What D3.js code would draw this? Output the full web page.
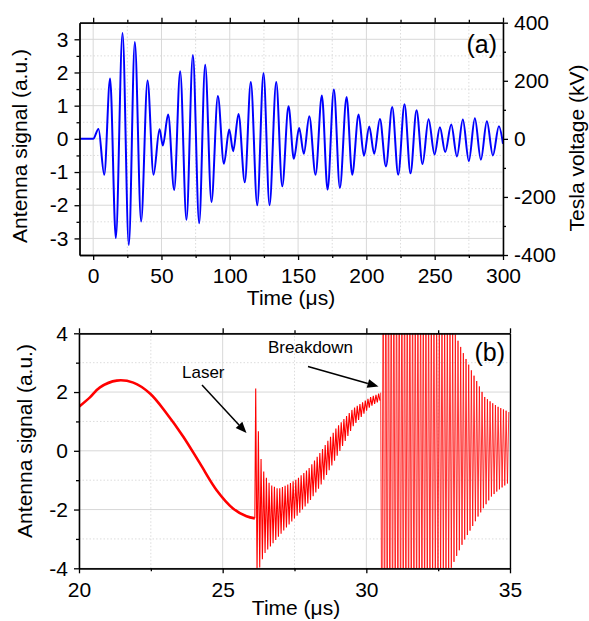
<!DOCTYPE html>
<html>
<head>
<meta charset="utf-8">
<script src="https://cdnjs.cloudflare.com/ajax/libs/d3/7.8.5/d3.min.js"></script>
<style>
  body { margin: 0; background: #fff; }
  text { font-family: "Liberation Sans", Arial, sans-serif; fill: #000; }
  .grid-major { stroke: #d8d8d8; stroke-width: 1; }
  .grid-minor { stroke: #dcdcdc; stroke-width: 1; stroke-dasharray: 1.5 2; }
  .axis path, .axis line { stroke: #000; stroke-width: 1.3; }
</style>
</head>
<body>
<div id="chart"></div>
<script>
// ---- panel (a): antenna signal, extrema ----
const aTime = [-10, 0, 3.9, 8.1, 12.4, 16.6, 21.5, 26.1, 30.5, 35.1, 39.8, 44.2,
  48.6, 51.0, 54.9, 59.3, 63.7, 68.3, 73.0, 77.6, 82.0, 86.6,
  91.3, 95.7, 99.6, 102.5, 106.4, 111.0, 115.4, 120.1, 124.7, 129.1,
  134.0, 138.4, 143.0, 146.9, 150.8, 154.2, 158.2, 162.8, 167.4, 171.6,
  176.2, 180.6, 185.5, 189.6, 194.3, 198.2, 202.1, 205.7, 209.9, 214.3,
  218.9, 223.3, 227.9, 232.3, 236.7, 241.1, 245.5, 249.9, 253.8, 257.7,
  262.1, 266.3, 270.6, 275.0, 279.4, 283.8, 288.2, 292.6, 297.0, 300];
const aSignal = [0, 0, 0.30, -1.08, 1.82, -2.99, 3.19, -3.2, 2.92, -2.49, 1.76, -1.08,
  0.29, -0.2, 0.73, -1.54, 2.04, -2.44, 2.53, -2.54, 2.23, -1.9,
  1.29, -0.75, 0.28, -0.37, 0.75, -1.31, 1.71, -2.0, 1.98, -2.0,
  1.71, -1.43, 0.98, -0.6, 0.33, -0.45, 0.68, -1.08, 1.31, -1.53,
  1.49, -1.48, 1.26, -1.08, 0.73, -0.51, 0.37, -0.45, 0.6, -0.83,
  0.96, -1.08, 1.04, -1.04, 0.86, -0.76, 0.59, -0.47, 0.35, -0.4,
  0.43, -0.53, 0.58, -0.67, 0.62, -0.63, 0.53, -0.5, 0.38, -0.15];
const aXMajor = [0, 50, 100, 150, 200, 250, 300];
const aXMinor = [25, 75, 125, 175, 225, 275];
const aYMajor = [-3, -2, -1, 0, 1, 2, 3];
const aYMinor = [-2.5, -1.5, -0.5, 0.5, 1.5, 2.5];
const aKvMajor = [-400, -200, 0, 200, 400];
const aKvMinor = [-300, -100, 100, 300];

// ---- panel (b): antenna signal around laser trigger and breakdown ----
// slow swing before the laser
const bTime = [20, 20.38, 20.73, 21.31, 21.89, 22.47, 23.05, 23.63, 24.21, 24.79, 25.37, 25.83, 26.12];
const bSignal = [1.5, 1.82, 2.16, 2.39, 2.32, 1.95, 1.27, 0.48, -0.43, -1.34, -1.97, -2.23, -2.3];
// ringing after the laser: envelope of the oscillation
const laserTime = [26.15, 26.24, 26.32, 26.41, 26.50, 26.65, 26.94, 27.27, 27.6, 28.0, 28.4, 28.97, 29.55, 30.13, 30.50];
const laserUpper = [2.12, 0.70, -0.20, -0.66, -0.88, -1.15, -1.30, -1.15, -0.95, -0.6, -0.05, 0.80, 1.45, 1.82, 1.98];
const laserLower = [-4.2, -4.1, -3.9, -3.6, -3.43, -3.27, -2.93, -2.55, -2.2, -1.75, -1.2, -0.2, 0.85, 1.5, 1.72];
// breakdown: envelope (goes off scale until ~33 µs)
const bdTime = [30.54, 32.95, 33.18, 33.41, 33.65, 33.88, 34.11, 34.35, 34.58, 35.0];
const bdUpper = [8, 4.3, 3.77, 3.25, 2.75, 2.3, 1.84, 1.65, 1.5, 1.3];
const bdLower = [-8, -4.0, -3.5, -3.04, -2.65, -2.25, -1.9, -1.56, -1.35, -1.05];
const ringPeriod = 0.093; // µs, spacing of the teeth
const bXMajor = [20, 25, 30, 35];
const bXMinor = [22.5, 27.5, 32.5];
const bYMajor = [-4, -2, 0, 2, 4];
const bYMinor = [-3, -1, 1, 3];

const width = 589, height = 621;
const svg = d3.select("#chart").append("svg")
  .attr("width", width).attr("height", height);

function drawPanel(cfg) {
  const { x, y, xMajor, xMinor, yMajor, yMinor } = cfg;
  const g = svg.append("g");
  const [x0, x1] = x.range(), [y0, y1] = y.range();

  // grid
  g.selectAll(".gxm").data(xMinor).join("line").attr("class", "grid-minor")
    .attr("x1", x).attr("x2", x).attr("y1", y0).attr("y2", y1);
  g.selectAll(".gym").data(yMinor).join("line").attr("class", "grid-minor")
    .attr("y1", y).attr("y2", y).attr("x1", x0).attr("x2", x1);
  g.selectAll(".gxM").data(xMajor).join("line").attr("class", "grid-major")
    .attr("x1", x).attr("x2", x).attr("y1", y0).attr("y2", y1);
  g.selectAll(".gyM").data(yMajor).join("line").attr("class", "grid-major")
    .attr("y1", y).attr("y2", y).attr("x1", x0).attr("x2", x1);
  return g;
}

function drawAxes(g, cfg) {
  const { x, y, xMajor, xMinor, yMajor, yMinor } = cfg;
  const [x0, x1] = x.range(), [y0, y1] = y.range();
  const add = (axis, tr) => g.append("g").attr("class", "axis")
    .attr("transform", tr).call(axis)
    .call(s => s.selectAll("text").attr("font-size", 21).attr("font-family", null));
  // minor ticks
  add(d3.axisBottom(x).tickValues(xMinor).tickSize(3).tickSizeOuter(0).tickFormat(""), `translate(0,${y0})`);
  add(d3.axisTop(x).tickValues(xMinor).tickSize(3).tickSizeOuter(0).tickFormat(""), `translate(0,${y1})`);
  add(d3.axisLeft(y).tickValues(yMinor).tickSize(3).tickSizeOuter(0).tickFormat(""), `translate(${x0},0)`);
  // major ticks
  add(d3.axisBottom(x).tickValues(xMajor).tickSize(5).tickSizeOuter(0).tickPadding(cfg.xPad), `translate(0,${y0})`);
  add(d3.axisTop(x).tickValues(xMajor).tickSize(5).tickSizeOuter(0).tickFormat(""), `translate(0,${y1})`);
  add(d3.axisLeft(y).tickValues(yMajor).tickSize(5).tickSizeOuter(0).tickPadding(6)
    .tickFormat(d3.format("d")), `translate(${x0},0)`);
  if (cfg.right) {
    const r = cfg.right;
    add(d3.axisRight(r).tickValues(aKvMinor).tickSize(3).tickSizeOuter(0).tickFormat(""), `translate(${x1},0)`);
    add(d3.axisRight(r).tickValues(aKvMajor).tickSize(5).tickSizeOuter(0).tickPadding(6)
      .tickFormat(d3.format("d")), `translate(${x1},0)`);
  } else {
    add(d3.axisRight(y).tickValues([]).tickSizeOuter(0), `translate(${x1},0)`);
  }
  // minus signs as plain hyphens, like the original
  g.selectAll(".axis text").text(function () { return d3.select(this).text().replace("−", "-"); });
}

// ---------- panel (a) ----------
const xa = d3.scaleLinear().domain([-10, 300]).range([79.5, 503]);
const ya = d3.scaleLinear().domain([-3.5, 3.5]).range([255, 22.7]);
const yaKv = d3.scaleLinear().domain([-400, 400]).range([255, 22.7]);
const cfgA = { x: xa, y: ya, xMajor: aXMajor, xMinor: aXMinor, yMajor: aYMajor, yMinor: aYMinor, xPad: 8, right: yaKv };
const ga = drawPanel(cfgA);

svg.append("clipPath").attr("id", "clipA").append("rect")
  .attr("x", 79.5).attr("y", 22.7).attr("width", 503 - 79.5).attr("height", 255 - 22.7);
ga.append("path")
  .datum(d3.zip(aTime, aSignal))
  .attr("clip-path", "url(#clipA)")
  .attr("fill", "none").attr("stroke", "#0000ff").attr("stroke-width", 2)
  .attr("d", d3.line().x(d => xa(d[0])).y(d => ya(d[1])).curve(d3.curveMonotoneX));
drawAxes(ga, cfgA);

ga.append("text").attr("x", 497).attr("y", 53).attr("text-anchor", "end")
  .attr("font-size", 25).text("(a)");
ga.append("text").attr("x", 291).attr("y", 305).attr("text-anchor", "middle")
  .attr("font-size", 21).text("Time (μs)");
ga.append("text").attr("transform", "translate(27,146) rotate(-90)")
  .attr("text-anchor", "middle").attr("font-size", 21).text("Antenna signal (a.u.)");
ga.append("text").attr("transform", "translate(583.5,148) rotate(-90)")
  .attr("text-anchor", "middle").attr("font-size", 21).text("Tesla voltage (kV)");

// ---------- panel (b) ----------
const xb = d3.scaleLinear().domain([20, 35]).range([79, 510]);
const yb = d3.scaleLinear().domain([-4, 4]).range([568.3, 333.3]);
const cfgB = { x: xb, y: yb, xMajor: bXMajor, xMinor: bXMinor, yMajor: bYMajor, yMinor: bYMinor, xPad: 9 };
const gb = drawPanel(cfgB);

svg.append("clipPath").attr("id", "clipB").append("rect")
  .attr("x", 79).attr("y", 333.3).attr("width", 510 - 79).attr("height", 568.3 - 333.3);

// oscillation drawn as teeth alternating between the read envelopes
function ringing(times, upper, lower, startLow) {
  const up = d3.scaleLinear().domain(times).range(upper);
  const lo = d3.scaleLinear().domain(times).range(lower);
  const t0 = times[0], t1 = times[times.length - 1];
  const n = Math.floor((t1 - t0) / (ringPeriod / 2));
  return d3.range(n + 1).map(k => {
    const t = t0 + k * ringPeriod / 2;
    const low = (k % 2 === 0) === startLow;
    return [t, low ? lo(t) : up(t)];
  });
}

const lineB = d3.line().x(d => xb(d[0])).y(d => yb(d[1]));
const plotB = gb.append("g").attr("clip-path", "url(#clipB)");
plotB.append("path")
  .datum(d3.zip(bTime, bSignal))
  .attr("fill", "none").attr("stroke", "#ff0000").attr("stroke-width", 2.6)
  .attr("d", lineB.curve(d3.curveCatmullRom));
plotB.append("path")
  .datum([[bTime[bTime.length - 1], bSignal[bSignal.length - 1]]].concat(ringing(laserTime, laserUpper, laserLower, false)))
  .attr("fill", "none").attr("stroke", "#ff0000").attr("stroke-width", 1.1)
  .attr("d", d3.line().x(d => xb(d[0])).y(d => yb(d[1])));
plotB.append("path")
  .datum([[laserTime[laserTime.length - 1], laserUpper[laserUpper.length - 1]]].concat(ringing(bdTime, bdUpper, bdLower, true)))
  .attr("fill", "none").attr("stroke", "#ff0000").attr("stroke-width", 0.8)
  .attr("d", d3.line().x(d => xb(d[0])).y(d => yb(d[1])));
drawAxes(gb, cfgB);

// annotations
function arrow(g, x1, y1, x2, y2) {
  const a = Math.atan2(y2 - y1, x2 - x1), L = 11, W = 4.5;
  const bx = x2 - L * Math.cos(a), by = y2 - L * Math.sin(a);
  g.append("line").attr("x1", x1).attr("y1", y1).attr("x2", bx).attr("y2", by)
    .attr("stroke", "#000").attr("stroke-width", 1.5);
  g.append("polygon").attr("fill", "#000").attr("points", [
    [x2, y2],
    [bx + W * Math.sin(a), by - W * Math.cos(a)],
    [bx - W * Math.sin(a), by + W * Math.cos(a)]].map(p => p.join(",")).join(" "));
}
gb.append("text").attr("x", 182).attr("y", 378).attr("font-size", 17).text("Laser");
arrow(gb, 202, 385, 246.5, 433);
gb.append("text").attr("x", 268).attr("y", 353).attr("font-size", 17).text("Breakdown");
arrow(gb, 308, 366.5, 378.5, 386.5);

gb.append("text").attr("x", 505).attr("y", 361).attr("text-anchor", "end")
  .attr("font-size", 25).text("(b)");
gb.append("text").attr("x", 296).attr("y", 615).attr("text-anchor", "middle")
  .attr("font-size", 21).text("Time (μs)");
gb.append("text").attr("transform", "translate(32,441) rotate(-90)")
  .attr("text-anchor", "middle").attr("font-size", 21).text("Antenna signal (a.u.)");
</script>
</body>
</html>
